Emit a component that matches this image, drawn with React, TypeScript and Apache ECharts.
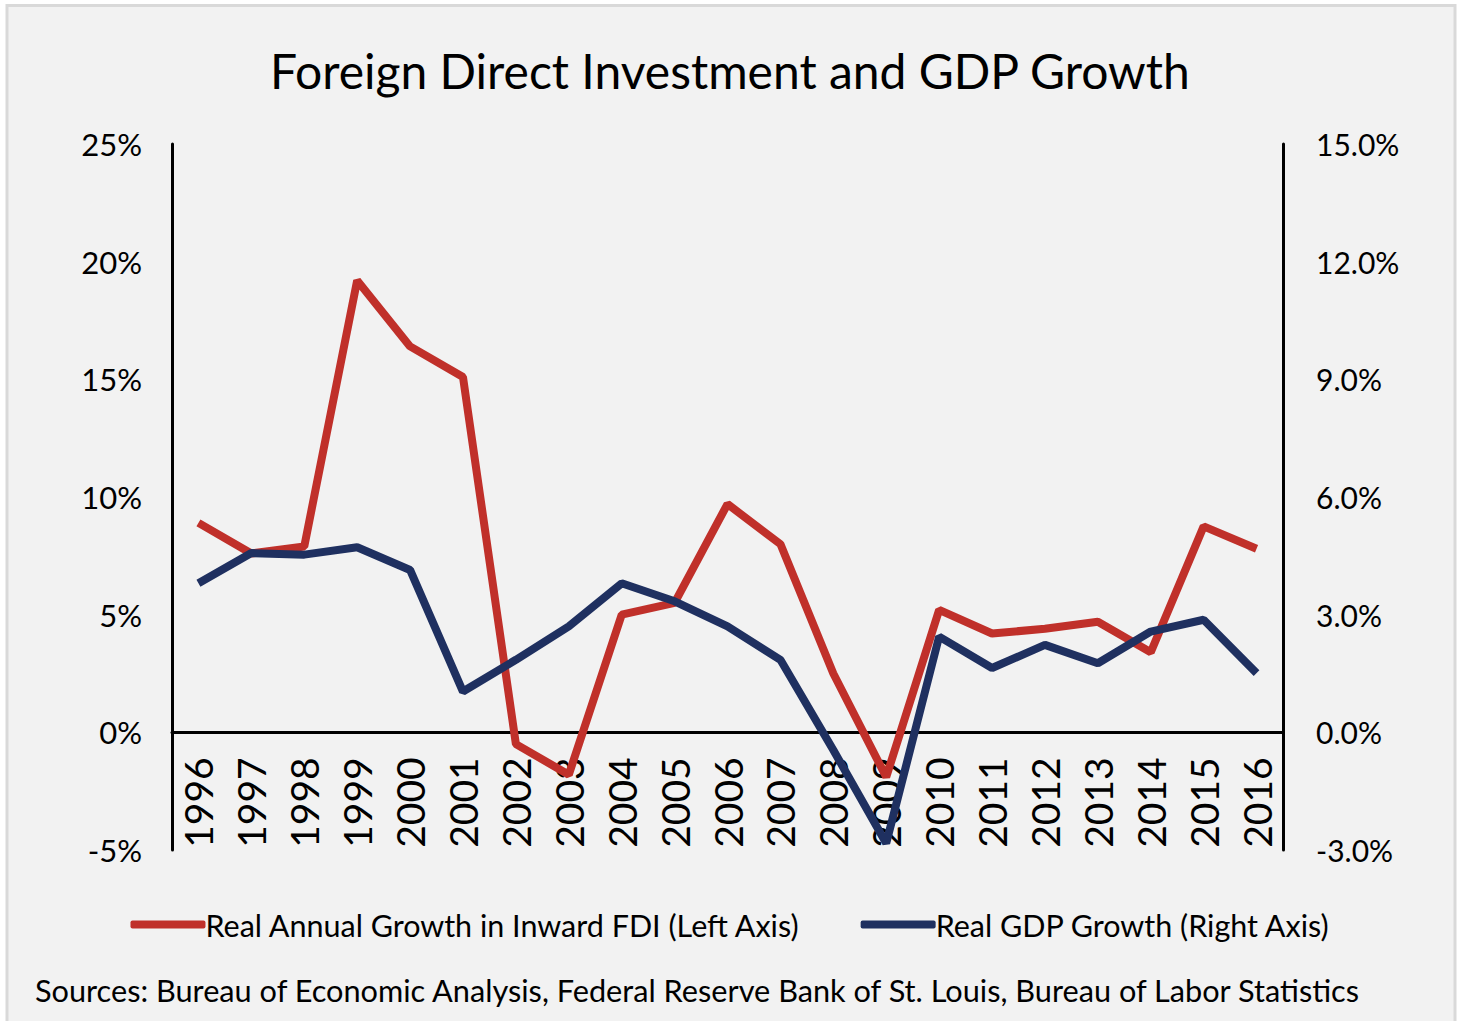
import React, { useEffect, useRef } from "react";
import * as echarts from "echarts";

const years = ["1996","1997","1998","1999","2000","2001","2002","2003","2004","2005","2006","2007","2008","2009","2010","2011","2012","2013","2014","2015","2016"];
const fdiGrowth = [8.9, 7.6, 7.9, 19.2, 16.4, 15.1, -0.5, -1.8, 5.0, 5.5, 9.7, 8.0, 2.5, -1.9, 5.2, 4.2, 4.4, 4.7, 3.4, 8.75, 7.8];
const gdpGrowth = [3.8, 4.57, 4.53, 4.72, 4.14, 1.04, 1.85, 2.7, 3.8, 3.34, 2.7, 1.85, -0.45, -2.83, 2.44, 1.64, 2.23, 1.76, 2.57, 2.87, 1.51];
const leftTicks = { min: -5, max: 25, interval: 5 };
const rightTicks = { min: -3, max: 15, interval: 3 };
const seriesNames = ["Real Annual Growth in Inward FDI (Left Axis)", "Real GDP Growth (Right Axis)"];
const titleText = "Foreign Direct Investment and GDP Growth";
const sourceText = "Sources: Bureau of Economic Analysis, Federal Reserve Bank of St. Louis, Bureau of Labor Statistics";

const FONT = "Lato";
const RED = "#c0302a";
const NAVY = "#1f3060";

const GRID_TOP = 144;
const GRID_BOTTOM = 171;
const CHART_H = 1021;
const plotH = CHART_H - GRID_TOP - GRID_BOTTOM;
// offset that moves the category axis from the grid bottom up to the left axis' zero line
const zeroOffset = -plotH * (0 - leftTicks.min) / (leftTicks.max - leftTicks.min);

export default function App() {
  const ref = useRef<HTMLDivElement>(null);
  useEffect(() => {
    const chart = echarts.init(ref.current!, null, { renderer: "svg" });
    chart.setOption({
      animation: false,
      backgroundColor: "#ffffff",
      textStyle: { fontFamily: FONT },
      graphic: [
        {
          type: "rect",
          z: -10,
          silent: true,
          shape: { x: 7, y: 5.5, width: 1448, height: 1030 },
          style: { fill: "#f2f2f2", stroke: "#d9d9d9", lineWidth: 3 },
        },
        {
          type: "text",
          left: "center",
          top: 46,
          style: { text: titleText, font: `48px ${FONT}`, fill: "#000" },
        },
        {
          type: "text",
          left: 35,
          top: 975,
          style: { text: sourceText, font: `30.7px ${FONT}`, fill: "#000" },
        },
      ],
      grid: { left: 172, right: 178, top: GRID_TOP, bottom: GRID_BOTTOM, containLabel: false },
      legend: {
        top: 904,
        left: "center",
        itemWidth: 75,
        itemHeight: 8,
        itemGap: 60,
        textStyle: { fontFamily: FONT, fontSize: 30.5, color: "#000", padding: [0, 0, 0, -5] },
        icon: "roundRect",
        data: seriesNames,
      },
      xAxis: {
        type: "category",
        data: years,
        boundaryGap: true,
        position: "bottom",
        offset: zeroOffset,
        axisLine: { onZero: false, lineStyle: { color: "#000", width: 3 } },
        axisTick: { show: false },
        axisLabel: {
          rotate: 90,
          fontSize: 39,
          color: "#000",
          fontFamily: FONT,
          margin: 25,
          interval: 0,
        },
        z: 1,
      },
      yAxis: [
        {
          type: "value",
          min: leftTicks.min,
          max: leftTicks.max,
          interval: leftTicks.interval,
          axisLine: { show: true, lineStyle: { color: "#000", width: 3 } },
          axisTick: { show: false },
          splitLine: { show: false },
          axisLabel: {
            formatter: (v: number) => `${v}%`,
            fontSize: 31,
            color: "#000",
            fontFamily: FONT,
            margin: 30,
          },
        },
        {
          type: "value",
          min: rightTicks.min,
          max: rightTicks.max,
          interval: rightTicks.interval,
          position: "right",
          axisLine: { show: true, lineStyle: { color: "#000", width: 3 } },
          axisTick: { show: false },
          splitLine: { show: false },
          axisLabel: {
            formatter: (v: number) => `${v.toFixed(1)}%`,
            fontSize: 30,
            color: "#000",
            fontFamily: FONT,
            margin: 33,
          },
        },
      ],
      series: [
        {
          name: seriesNames[0],
          type: "line",
          yAxisIndex: 0,
          data: fdiGrowth,
          symbol: "none",
          lineStyle: { color: RED, width: 8 },
          itemStyle: { color: RED },
          z: 3,
        },
        {
          name: seriesNames[1],
          type: "line",
          yAxisIndex: 1,
          data: gdpGrowth,
          symbol: "none",
          lineStyle: { color: NAVY, width: 8 },
          itemStyle: { color: NAVY },
          z: 4,
        },
      ],
    });
    return () => chart.dispose();
  }, []);
  return (
    <div style={{ position: "absolute", left: 0, top: 0, width: 1461, height: 1021 }}>
      <div ref={ref} style={{ width: 1461, height: 1021 }} />
    </div>
  );
}
